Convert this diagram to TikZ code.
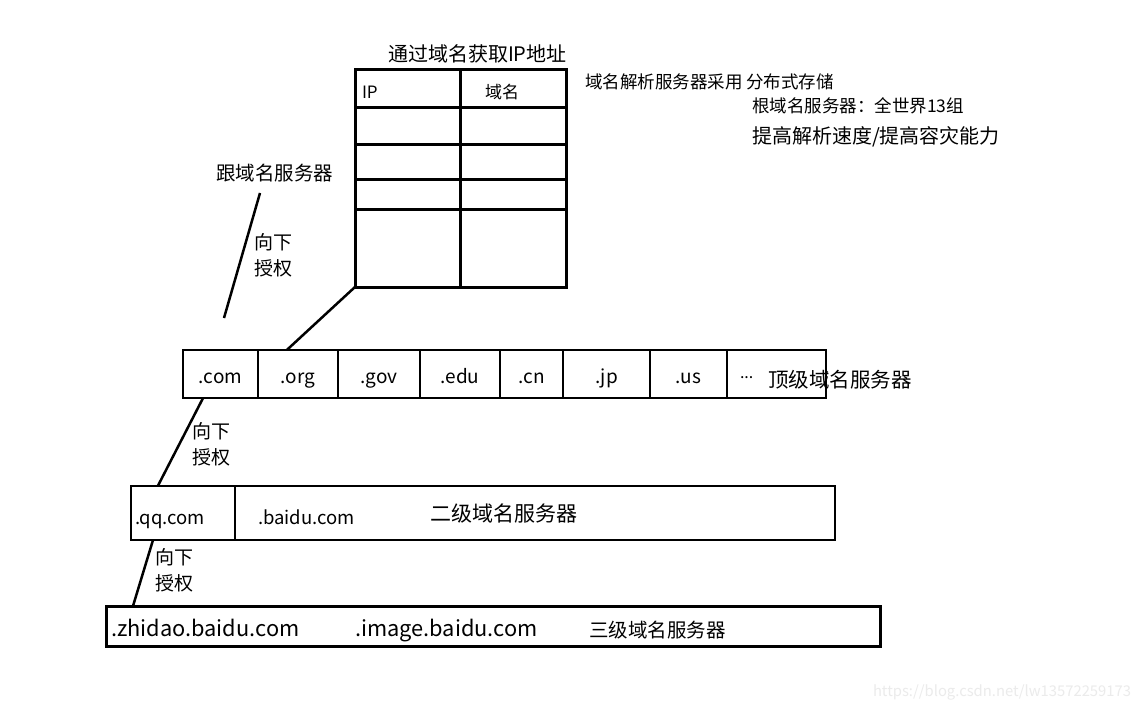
\documentclass[tikz,border=0pt]{standalone}
\usepackage{fontspec}
\setmainfont{Noto Sans CJK SC}
\usetikzlibrary{positioning,calc}

\begin{document}
\begin{tikzpicture}[x=1pt, y=-1pt, line width=2pt, outer sep=0pt,
	tld/.style={draw, line width=2pt, minimum height=48pt, inner sep=0pt, text height=19pt, text depth=1pt, font=\fontsize{19}{22}\selectfont},
	box/.style={draw, inner sep=0pt, anchor=north west},
	word/.style={anchor=west, inner sep=0pt},
	grant/.style={anchor=west, inner sep=0pt, align=left, font=\fontsize{19}{26}\selectfont},
	wire/.style={line width=2.5pt}]
	\useasboundingbox (0,0) rectangle (1142,711);
	\fill[white] (0,0) rectangle (1142,711);

	% table of IP / domain pairs
	\node[word, font=\fontsize{20}{24}\selectfont] (title) at (388,54) {通过域名获取IP地址};
	\node[box, line width=3pt, minimum width=211pt, minimum height=217pt] (table) at (355,70) {};
	\draw[line width=3pt] (table.north) -- (table.south);
	\foreach \y in {108,145,180,210}
		\draw[line width=3pt] (table.west |- 0,\y) -- (table.east |- 0,\y);
	\node[word, font=\fontsize{17}{20}\selectfont] (ip) at (362,92) {IP};
	\node[word, font=\fontsize{17}{20}\selectfont] (dn) at (485,92) {域名};

	% notes on the right
	\node[word, font=\fontsize{17.5}{20}\selectfont] (note1) at (585,82) {域名解析服务器采用 分布式存储};
	\node[word, font=\fontsize{17.5}{20}\selectfont] (note2) at (752,106) {根域名服务器：全世界13组};
	\node[word, font=\fontsize{20}{24}\selectfont] (note3) at (752,137) {提高解析速度/提高容灾能力};

	% root
	\node[word, font=\fontsize{19.5}{22}\selectfont] (root) at (216,173) {跟域名服务器};
	\coordinate (r1) at (260,193);
	\coordinate (r2) at (224,318);
	\draw[wire] (r1) -- (r2);
	\node[grant] (g1) at (254,255) {向下\\授权};

	% top level
	\node[tld, minimum width=75pt, anchor=north west] (com) at (183,350) {.com};
	\node[tld, minimum width=80pt, right=0pt of com] (org) {.org};
	\node[tld, minimum width=82pt, right=0pt of org] (gov) {.gov};
	\node[tld, minimum width=80pt, right=0pt of gov] (edu) {.edu};
	\node[tld, minimum width=63pt, right=0pt of edu] (cn) {.cn};
	\node[tld, minimum width=87pt, right=0pt of cn] (jp) {.jp};
	\node[tld, minimum width=77pt, right=0pt of jp] (us) {.us};
	\node[tld, minimum width=99pt, right=0pt of us] (more) {};
	\node[word, font=\fontsize{16}{20}\selectfont] (dots) at (740,378) {...};
	\node[word, font=\fontsize{20.5}{24}\selectfont] (top) at (768,380) {顶级域名服务器};
	\draw[wire] (table.south west) -- (org.115);

	% second level
	\node[box, line width=2pt, minimum width=104pt, minimum height=54pt] (qq) at (131,486) {};
	\node[box, line width=2pt, minimum width=600pt, minimum height=54pt, right=0pt of qq] (baidu) {};
	\node[word, anchor=base west, font=\fontsize{18.5}{22}\selectfont] (qqt) at (135,524) {.qq.com};
	\node[word, anchor=base west, font=\fontsize{18.5}{22}\selectfont] (baidut) at (258,524) {.baidu.com};
	\node[word, font=\fontsize{21}{24}\selectfont] (second) at (430,514) {二级域名服务器};
	\draw[wire] (com.234) -- (qq.133);
	\node[grant] (g2) at (192,444) {向下\\授权};

	% third level
	\node[box, line width=3pt, minimum width=774pt, minimum height=40pt] (lvl3) at (106,606) {};
	\node[word, anchor=base west, font=\fontsize{21.8}{26}\selectfont] (zhidao) at (111,636) {.zhidao.baidu.com};
	\node[word, anchor=base west, font=\fontsize{21.8}{26}\selectfont] (image) at (355,636) {.image.baidu.com};
	\node[word, font=\fontsize{19.5}{22}\selectfont] (third) at (589,630) {三级域名服务器};
	\draw[wire] (qq.222) -- ($(lvl3.north west)+(27,0)$);
	\node[grant] (g3) at (155,570) {向下\\授权};

	\node[word, text=black!8, font=\fontsize{14.8}{16}\selectfont] (mark) at (873,692) {https://blog.csdn.net/lw13572259173};
\end{tikzpicture}
\end{document}
